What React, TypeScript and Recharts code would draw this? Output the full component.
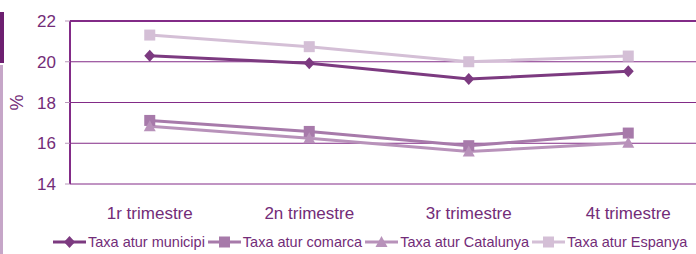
import { CartesianGrid, Label, Legend, Line, LineChart, ReferenceLine, XAxis, YAxis } from 'recharts'

const quarters = ['1r trimestre', '2n trimestre', '3r trimestre', '4t trimestre']
const municipi = [20.3, 19.93, 19.15, 19.53]
const comarca = [17.12, 16.58, 15.88, 16.5]
const catalunya = [16.83, 16.25, 15.59, 16.02]
const espanya = [21.31, 20.74, 20.0, 20.28]
const yTicks = [14, 16, 18, 20, 22]

const FONT = '"Liberation Sans", Arial, sans-serif'
const AXIS = '#822b87'
const TEXT = '#732c78'

const series = [
  { key: 'municipi', name: 'Taxa atur municipi', color: '#7c3a80', shape: 'diamond' },
  { key: 'comarca', name: 'Taxa atur comarca', color: '#a77aaa', shape: 'square' },
  { key: 'catalunya', name: 'Taxa atur Catalunya', color: '#b892ba', shape: 'triangle' },
  { key: 'espanya', name: 'Taxa atur Espanya', color: '#d4bfd6', shape: 'square' },
]

const data = quarters.map((q, i) => ({
  q,
  municipi: municipi[i],
  comarca: comarca[i],
  catalunya: catalunya[i],
  espanya: espanya[i],
}))

function marker(shape: string, cx: number, cy: number, color: string, key?: string) {
  if (shape === 'diamond')
    return <path key={key} d={`M${cx},${cy - 6}L${cx + 5.5},${cy}L${cx},${cy + 6}L${cx - 5.5},${cy}Z`} fill={color} />
  if (shape === 'triangle')
    return <path key={key} d={`M${cx},${cy - 6}L${cx + 6},${cy + 5}L${cx - 6},${cy + 5}Z`} fill={color} />
  return <rect key={key} x={cx - 5.5} y={cy - 5.5} width={11} height={11} fill={color} />
}

const makeDot = (shape: string, color: string) => (props: any) => {
  const { cx, cy, index } = props
  if (cx == null || cy == null) return <g key={index} />
  return marker(shape, cx, cy, color, `d${index}`)
}

const renderLegend = () => (
  <div style={{ display: 'flex', alignItems: 'center', paddingLeft: 43, paddingTop: 4, fontFamily: FONT, fontSize: 14.5, color: TEXT, whiteSpace: 'nowrap' }}>
    {series.map((s) => (
      <div key={s.key} style={{ display: 'flex', alignItems: 'center', marginRight: 3 }}>
        <svg width={33} height={14}>
          <line x1={0} y1={7} x2={33} y2={7} stroke={s.color} strokeWidth={3} />
          {marker(s.shape, 16.5, 7, s.color)}
        </svg>
        <span style={{ marginLeft: 2 }}>{s.name}</span>
      </div>
    ))}
  </div>
)

export default function App() {
  return (
    <div style={{ position: 'absolute', left: 0, top: 0, width: 696, height: 254, overflow: 'hidden', background: '#fff' }}>
      <div style={{ position: 'absolute', left: 0, top: 12, width: 4, height: 51, background: '#6d1f70' }} />
      <div style={{ position: 'absolute', left: 0, top: 65, width: 3, height: 189, background: '#c6a6c8' }} />
      <LineChart width={720} height={254} data={data} margin={{ top: 21, right: 12, left: 10, bottom: 0 }}>
        <CartesianGrid vertical={false} stroke={AXIS} strokeWidth={1} />
        <XAxis
          xAxisId="edges"
          type="number"
          dataKey={() => 0}
          domain={[0, 4]}
          ticks={[0, 1, 2, 3, 4]}
          height={0}
          tick={() => <g />}
          tickSize={6}
          tickLine={{ stroke: '#c4c4c4' }}
          axisLine={{ stroke: AXIS, strokeWidth: 2 }}
        />
        <XAxis
          dataKey="q"
          scale="band"
          height={46}
          axisLine={false}
          tickLine={false}
          tickMargin={17}
          tick={{ fill: TEXT, fontSize: 17, fontFamily: FONT }}
        />
        <YAxis
          domain={[14, 22]}
          ticks={yTicks}
          width={60}
          tickSize={5}
          tickMargin={9}
          axisLine={{ stroke: AXIS, strokeWidth: 2 }}
          tickLine={{ stroke: '#b896ba' }}
          tick={{ fill: TEXT, fontSize: 17, fontFamily: FONT }}
        >
          <Label value="%" angle={-90} position="insideLeft" offset={7} textAnchor="middle" fill={TEXT} fontSize={18} fontFamily={FONT} />
        </YAxis>
        <ReferenceLine y={22} stroke={AXIS} strokeWidth={2} />
        <Legend verticalAlign="bottom" height={24} content={renderLegend} />
        {series.map((s) => (
          <Line
            key={s.key}
            dataKey={s.key}
            name={s.name}
            stroke={s.color}
            strokeWidth={3}
            dot={makeDot(s.shape, s.color)}
            activeDot={false}
            isAnimationActive={false}
          />
        ))}
      </LineChart>
    </div>
  )
}
